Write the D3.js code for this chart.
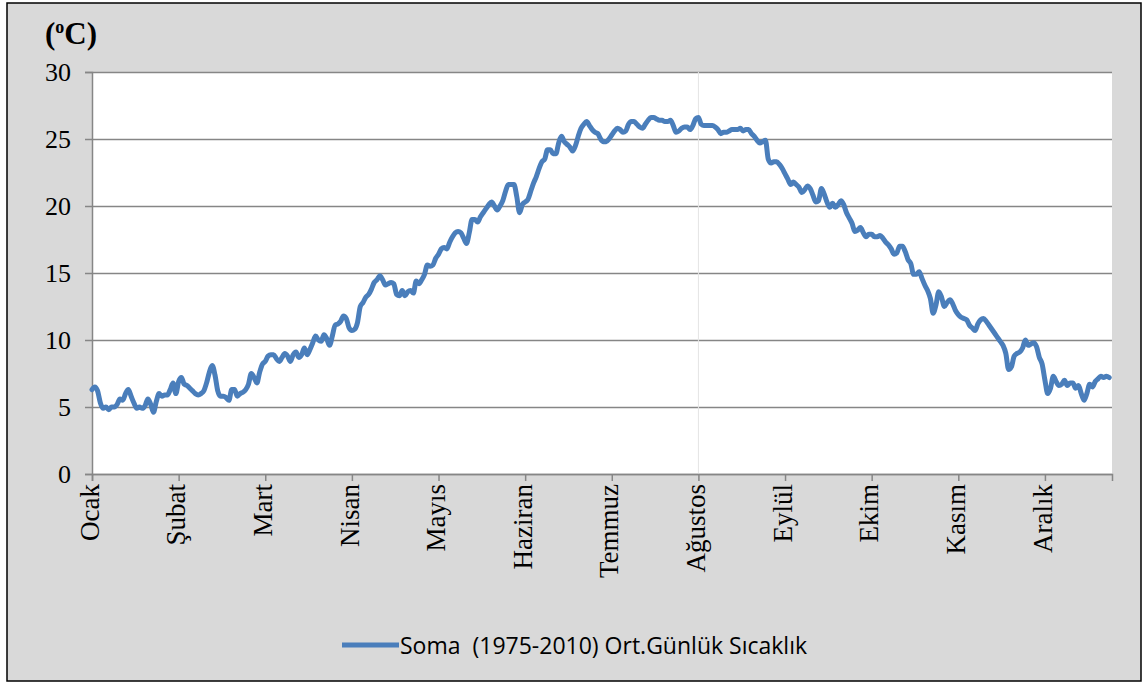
<!DOCTYPE html>
<html>
<head>
<meta charset="utf-8">
<script src="https://cdn.jsdelivr.net/npm/d3@7"></script>
<style>
    html, body { margin: 0; padding: 0; background: #fff; }
    svg { display: block; }
</style>
</head>
<body>
<svg id="chart"></svg>
<script>
// Month labels, one every 31 days on the category axis.
const monthLabels = ['Ocak', 'Şubat', 'Mart', 'Nisan', 'Mayıs', 'Haziran', 'Temmuz', 'Ağustos', 'Eylül', 'Ekim', 'Kasım', 'Aralık'];
const yTicks = [0, 5, 10, 15, 20, 25, 30];
const seriesName = 'Soma  (1975-2010) Ort.Günlük Sıcaklık';

// Daily mean temperature (°C), day 1 .. 365.
const temps = [
    6.3, 6.5, 6.2, 5.3, 4.9, 5.0, 4.8, 5.0, 5.0, 5.2, 5.6, 5.5, 6.0, 6.3, 5.8, 5.3, 4.9, 5.0, 4.9, 5.1,
    5.6, 5.2, 4.6, 5.4, 6.0, 5.8, 5.9, 5.9, 6.3, 6.8, 6.0, 6.9, 7.2, 6.7, 6.6, 6.4, 6.2, 6.0, 5.9, 6.0,
    6.2, 6.8, 7.6, 8.1, 7.4, 6.2, 5.8, 5.8, 5.7, 5.5, 6.3, 6.3, 5.8, 6.0, 6.1, 6.3, 6.7, 7.5, 7.2, 6.8,
    7.6, 8.2, 8.4, 8.8, 8.9, 8.9, 8.6, 8.4, 8.7, 9.0, 8.8, 8.4, 8.9, 9.1, 8.7, 8.9, 9.4, 8.9, 9.3, 9.8,
    10.3, 10.0, 9.9, 10.4, 10.1, 9.6, 10.3, 11.1, 11.2, 11.4, 11.8, 11.6, 10.9, 10.7, 10.8, 11.3, 12.5, 12.8, 13.2, 13.4,
    13.8, 14.3, 14.5, 14.8, 14.5, 14.1, 14.2, 14.3, 14.2, 13.4, 13.3, 13.7, 13.3, 13.6, 13.7, 13.5, 14.4, 14.2, 14.5, 14.9,
    15.6, 15.5, 15.6, 16.1, 16.4, 16.8, 16.9, 16.8, 17.3, 17.7, 18.0, 18.1, 18.0, 17.6, 17.2, 18.0, 19.0, 19.0, 18.8, 19.2,
    19.5, 19.8, 20.1, 20.3, 20.0, 19.7, 20.0, 20.4, 21.1, 21.6, 21.6, 21.6, 20.7, 19.5, 20.1, 20.3, 20.5, 21.1, 21.7, 22.2,
    22.8, 23.3, 23.5, 24.2, 24.2, 23.9, 23.9, 24.7, 25.2, 24.8, 24.6, 24.4, 24.1, 24.5, 25.2, 25.8, 26.1, 26.3, 26.0, 25.7,
    25.5, 25.4, 25.0, 24.8, 24.8, 25.0, 25.3, 25.6, 25.8, 25.7, 25.5, 25.6, 26.1, 26.3, 26.3, 26.1, 25.9, 25.8, 26.1, 26.4,
    26.6, 26.6, 26.5, 26.4, 26.4, 26.3, 26.3, 26.4, 26.0, 25.5, 25.6, 25.8, 25.9, 25.9, 25.7, 26.0, 26.5, 26.6, 26.1, 26.0,
    26.0, 26.0, 26.0, 25.9, 25.7, 25.4, 25.5, 25.5, 25.6, 25.7, 25.7, 25.7, 25.8, 25.6, 25.7, 25.7, 25.4, 25.2, 24.9, 24.7,
    24.8, 24.9, 23.5, 23.2, 23.3, 23.3, 23.1, 22.8, 22.4, 22.0, 21.6, 21.8, 21.6, 21.4, 21.0, 21.2, 21.5, 21.3, 20.8, 20.3,
    20.4, 21.3, 20.9, 20.3, 19.9, 20.2, 19.9, 20.1, 20.4, 20.1, 19.5, 19.1, 18.7, 18.1, 18.2, 18.4, 18.0, 17.7, 17.9, 17.9,
    17.7, 17.7, 17.8, 17.6, 17.3, 17.1, 16.8, 16.4, 16.5, 17.0, 17.0, 16.6, 16.0, 15.7, 14.9, 14.9, 15.1, 14.6, 14.1, 13.7,
    13.1, 12.0, 12.6, 13.6, 13.2, 12.5, 12.8, 13.0, 12.7, 12.2, 11.9, 11.7, 11.6, 11.5, 11.1, 10.9, 10.7, 11.2, 11.5, 11.6,
    11.4, 11.1, 10.8, 10.5, 10.2, 9.9, 9.6, 9.0, 7.8, 8.0, 8.8, 9.0, 9.1, 9.4, 10.0, 9.6, 9.7, 9.8, 9.5, 8.7,
    8.2, 7.0, 6.0, 6.4, 7.3, 6.9, 6.6, 6.7, 7.0, 6.6, 6.8, 6.8, 6.4, 6.6, 6.0, 5.5, 6.0, 6.7, 6.5, 6.9,
    7.1, 7.3, 7.2, 7.3, 7.2
];

const width = 1145;
const height = 684;
const plot = { left: 92, right: 1112, top: 72, bottom: 474 };
const serif = '"Liberation Serif", "Times New Roman", serif';
const sans = '"Open Sans", "Liberation Sans", sans-serif';
const gridColor = '#868686';
const lineColor = '#4a7ebb';

const svg = d3.select('#chart').attr('width', width).attr('height', height);

// Outer chart frame.
svg.append('rect')
    .attr('x', 7).attr('y', 3)
    .attr('width', 1134).attr('height', 678)
    .attr('fill', '#d9d9d9')
    .attr('stroke', '#000')
    .attr('stroke-width', 1.5);

svg.append('rect')
    .attr('x', plot.left).attr('y', plot.top)
    .attr('width', plot.right - plot.left).attr('height', plot.bottom - plot.top)
    .attr('fill', '#fff');

const x = d3.scaleLinear().domain([0, 365]).range([plot.left, plot.right]);
const y = d3.scaleLinear().domain([0, 30]).range([plot.bottom, plot.top]);

// Horizontal gridlines + y axis.
const yAxis = d3.axisLeft(y).tickValues(yTicks).tickSize(7).tickPadding(14);
const gy = svg.append('g').attr('transform', `translate(${plot.left},0)`).call(yAxis);
gy.select('.domain').attr('stroke', gridColor).attr('stroke-width', 1.5);
gy.selectAll('.tick line').attr('stroke', gridColor).attr('stroke-width', 1.5);
gy.selectAll('.tick text').attr('font-family', serif).attr('font-size', 26).attr('fill', '#000');
gy.selectAll('.tick')
    .append('line')
    .attr('x1', 0).attr('x2', plot.right - plot.left)
    .attr('stroke', gridColor).attr('stroke-width', 1.5);

// Faint vertical line seen at the Ağustos tick.
svg.append('line')
    .attr('x1', x(217)).attr('x2', x(217))
    .attr('y1', plot.top).attr('y2', plot.bottom)
    .attr('stroke', '#e4e4e4').attr('stroke-width', 1);

// X axis: a label every 31 days.
const xTickIdx = monthLabels.map((d, i) => i * 31);
const xAxis = d3.axisBottom(x).tickValues(xTickIdx).tickSize(7).tickFormat((d, i) => monthLabels[i]);
const gx = svg.append('g').attr('transform', `translate(0,${plot.bottom})`).call(xAxis);
gx.select('.domain').attr('stroke', gridColor).attr('stroke-width', 1.5);
gx.selectAll('.tick line').attr('stroke', gridColor).attr('stroke-width', 1.5);
gx.selectAll('.tick text')
    .attr('font-family', serif)
    .attr('font-size', 27)
    .attr('fill', '#000')
    .attr('text-anchor', 'end')
    .attr('dominant-baseline', 'middle')
    .attr('transform', 'rotate(-90)')
    .attr('x', -10)
    .attr('y', 0)
    .attr('dy', null);

// Temperature line.
const line = d3.line()
    .x((d, i) => x(i))
    .y(d => y(d))
    .curve(d3.curveMonotoneX);

svg.append('path')
    .datum(temps)
    .attr('d', line)
    .attr('fill', 'none')
    .attr('stroke', lineColor)
    .attr('stroke-width', 5)
    .attr('stroke-linejoin', 'round')
    .attr('stroke-linecap', 'round');

// Unit label.
const unit = svg.append('text')
    .attr('x', 45).attr('y', 44)
    .attr('font-family', serif)
    .attr('font-size', 31)
    .attr('font-weight', 'bold');
unit.append('tspan').text('(');
unit.append('tspan').attr('font-size', 18).attr('dy', -11).text('o');
unit.append('tspan').attr('dy', 11).text('C)');

// Legend.
const legend = svg.append('g').attr('transform', 'translate(342,645)');
legend.append('line')
    .attr('x1', 0).attr('x2', 57)
    .attr('stroke', lineColor).attr('stroke-width', 5);
legend.append('text')
    .attr('x', 58).attr('y', 0)
    .attr('dominant-baseline', 'central')
    .attr('font-family', sans)
    .attr('font-size', 23)
    .attr('fill', '#000')
    .style('white-space', 'pre')
    .text(seriesName);
</script>
</body>
</html>
